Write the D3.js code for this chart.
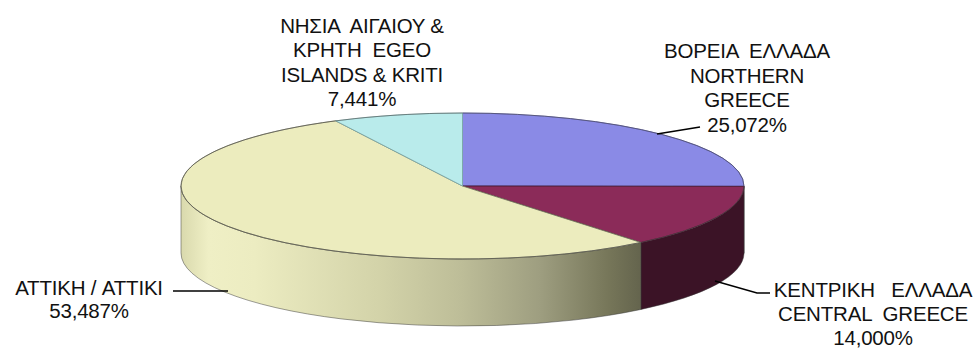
<!DOCTYPE html>
<html>
<head>
<meta charset="utf-8">
<script src="https://cdn.jsdelivr.net/npm/d3@7"></script>
<style>
  html, body { margin: 0; padding: 0; background: #fff; }
  svg { display: block; }
  text { font-family: "Liberation Sans", Arial, sans-serif; font-size: 20.5px; fill: #111; white-space: pre; letter-spacing: -0.2px; }
</style>
</head>
<body>
<svg id="chart" width="978" height="349"></svg>
<script>
// Regional shares (%), clockwise from 12 o'clock
const categories = ["NORTHERN GREECE", "CENTRAL GREECE", "ATTIKI", "EGEO ISLANDS & KRITI"];
const shares = [25.072, 14.000, 53.487, 7.441];
const labelLines = [
  ["ΒΟΡΕΙΑ  ΕΛΛΑΔΑ", "NORTHERN", "GREECE"],
  ["ΚΕΝΤΡΙΚΗ   ΕΛΛΑΔΑ", "CENTRAL  GREECE"],
  ["ΑΤΤΙΚΗ / ATTIKI"],
  ["ΝΗΣΙΑ  ΑΙΓΑΙΟΥ &", "ΚΡΗΤΗ  EGEO", "ISLANDS & KRITI"]
];

// Styling
const topColors = ["#8a8ae6", "#8b2b59", "#ececbe", "#b9ebeb"];
const sideColors = ["#5c5cb0", "#3b1326", "url(#attikiSide)", "#8fc8c8"];
const edgeColors = ["#5a5aa8", "#4a1a30", "#777760", "#7aa8a8"];

// Ellipse geometry of the pie top face
const cx = 462.5, cy = 186, rx = 281.5, ry = 73, depth = 67;

// Label placement (centre x, first baseline, line step) and leader lines
const labelPos = [
  { x: 747, y: 58, step: 24.6, leader: [[657, 134], [700, 127]] },
  { x: 873, y: 296.5, step: 24, leader: [[715, 281], [757, 293], [770, 293]] },
  { x: 89, y: 295, step: 22.5, leader: [[173, 291], [228, 291]] },
  { x: 362, y: 33, step: 24.3, leader: null }
];

const locale = d3.formatLocale({ decimal: ",", thousands: ".", grouping: [3], currency: ["", "€"] });
const fmt = v => locale.format(".3f")(v) + "%";

const svg = d3.select("#chart");
const defs = svg.append("defs");
const grad = defs.append("linearGradient")
  .attr("id", "attikiSide")
  .attr("gradientUnits", "userSpaceOnUse")
  .attr("x1", cx - rx).attr("x2", 641).attr("y1", 0).attr("y2", 0);
[[0, "#d9d9ad"], [0.06, "#efefc5"], [0.16, "#ececc1"], [0.43, "#d3d3a9"],
 [0.61, "#bdbd98"], [0.78, "#9e9e80"], [0.93, "#767659"], [1, "#64644d"]]
  .forEach(([o, c]) => grad.append("stop").attr("offset", o).attr("stop-color", c));

const pie = d3.pie().sort(null).value(d => d)(shares);

const px = a => cx + rx * Math.sin(a);
const py = (a, dy = 0) => cy - ry * Math.cos(a) + dy;

function topPath(a0, a1) {
  const large = (a1 - a0) > Math.PI ? 1 : 0;
  return `M${cx},${cy}L${px(a0)},${py(a0)}A${rx},${ry} 0 ${large} 1 ${px(a1)},${py(a1)}Z`;
}

function sidePath(a0, a1) {
  const s = Math.max(a0, Math.PI / 2), e = Math.min(a1, 3 * Math.PI / 2);
  if (e <= s) return null;
  return `M${px(s)},${py(s)}A${rx},${ry} 0 0 1 ${px(e)},${py(e)}` +
    `L${px(e)},${py(e, depth)}A${rx},${ry} 0 0 0 ${px(s)},${py(s, depth)}Z`;
}

const g = svg.append("g");

// Front walls
pie.forEach((d, i) => {
  const p = sidePath(d.startAngle, d.endAngle);
  if (!p) return;
  g.append("path").attr("d", p)
    .attr("fill", sideColors[i])
    .attr("stroke", "#3a3a3a").attr("stroke-opacity", 0.55).attr("stroke-width", 0.9)
    .attr("stroke-linejoin", "round");
});

// Top faces
pie.forEach((d, i) => {
  g.append("path").attr("d", topPath(d.startAngle, d.endAngle))
    .attr("fill", topColors[i])
    .attr("stroke", edgeColors[i]).attr("stroke-width", 0.9)
    .attr("stroke-linejoin", "round");
});
// Outer rim of the top face
g.append("ellipse").attr("cx", cx).attr("cy", cy).attr("rx", rx).attr("ry", ry)
  .attr("fill", "none").attr("stroke", "#4a4a4a").attr("stroke-opacity", 0.55).attr("stroke-width", 0.9);

// Labels and leader lines
pie.forEach((d, i) => {
  const pos = labelPos[i];
  const lines = labelLines[i].concat([fmt(shares[i])]);
  const t = svg.append("text").attr("text-anchor", "middle");
  lines.forEach((ln, k) => {
    t.append("tspan").attr("x", pos.x).attr("y", pos.y + k * pos.step).text(ln);
  });
  if (pos.leader) {
    svg.append("path")
      .attr("d", d3.line()(pos.leader))
      .attr("fill", "none").attr("stroke", "#000").attr("stroke-width", 1.4);
  }
});
</script>
</body>
</html>
